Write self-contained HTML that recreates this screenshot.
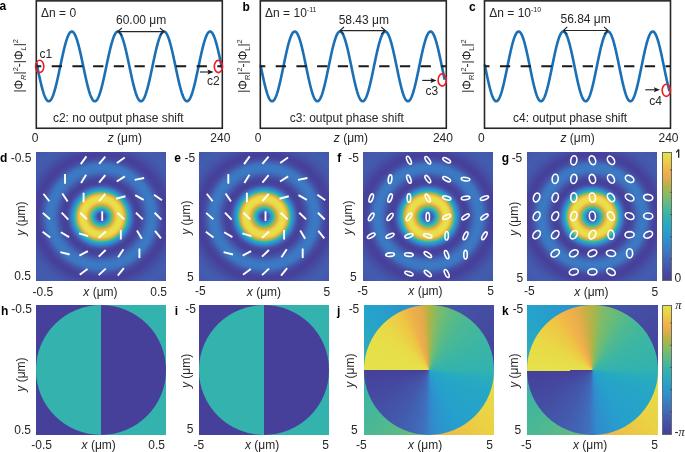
<!DOCTYPE html>
<html><head><meta charset="utf-8"><style>
html,body{margin:0;padding:0;background:#fff;}
body{width:685px;height:452px;overflow:hidden;position:relative;font-family:"Liberation Sans",sans-serif;}
.hm{position:absolute;overflow:hidden;}
.cb{position:absolute;box-sizing:border-box;border:0.7px solid #6a6a6a;}
.circ{position:absolute;left:0;top:0;width:100%;height:100%;border-radius:50%;}
svg{position:absolute;left:0;top:0;will-change:transform;}
text{font-family:"Liberation Sans",sans-serif;}
</style></head><body>
<div class="hm" style="left:36.00px;top:152.00px;width:130.00px;height:129.00px;background:radial-gradient(ellipse 100px 96px at 65.2px 64.7px, #46409a 0.0px, #46429b 0.5px, #46439c 1.0px, #46449d 1.5px, #45469e 2.0px, #4549a0 2.5px, #454ca3 3.0px, #444fa5 3.5px, #4455a9 4.0px, #425eb0 4.5px, #4167b7 5.0px, #3e73c0 5.5px, #3681c7 6.0px, #2f8dcd 6.5px, #2997cd 7.0px, #24a1cc 7.5px, #27a8c3 8.0px, #2cafb8 8.5px, #36b4aa 9.0px, #49b896 9.5px, #59ba86 10.0px, #6abb78 10.5px, #80bb69 11.0px, #98b857 11.5px, #afb444 12.0px, #ccaf47 12.5px, #e5ab4c 13.0px, #edaf4b 13.5px, #f1b649 14.0px, #efc245 14.5px, #edcb43 15.0px, #ebd344 15.5px, #e9d947 16.0px, #e8db47 16.5px, #e8dd48 17.0px, #e7df49 17.5px, #e7e049 18.0px, #e6e24a 18.5px, #e7e049 19.0px, #e7df49 19.5px, #e8dd48 20.0px, #e8db47 20.5px, #e9d947 21.0px, #ebd243 21.5px, #edc844 22.0px, #f0bc47 22.5px, #f0b14a 23.0px, #e5ac4c 23.5px, #c8af47 24.0px, #a2b74f 24.5px, #7dbb6b 25.0px, #5dbb82 25.5px, #42b79d 26.0px, #31b2b0 26.5px, #28acbe 27.0px, #25a4c8 27.5px, #279bcd 28.0px, #2c93cd 28.5px, #308ccd 29.0px, #3583c8 29.5px, #397bc4 30.0px, #3d73c0 30.5px, #406bba 31.0px, #4164b4 31.5px, #425daf 32.0px, #4456aa 32.5px, #4451a6 33.0px, #454ca2 33.5px, #454aa1 34.0px, #45479f 34.5px, #46449d 35.0px, #46429b 35.5px, #46429b 36.0px, #46419b 36.5px, #46409a 37.0px, #46409a 37.5px, #46429b 38.0px, #46439c 38.5px, #46449d 39.0px, #45469e 39.5px, #4549a0 40.0px, #454ca2 40.5px, #454ea4 41.0px, #4451a6 41.5px, #4454a8 42.0px, #4357aa 42.5px, #435aad 43.0px, #425daf 43.5px, #4261b2 44.0px, #4164b4 44.5px, #4167b7 45.0px, #406ab9 45.5px, #406dbc 46.0px, #3f6fbd 46.5px, #3f71be 47.0px, #3e72bf 47.5px, #3d74c0 48.0px, #3c76c1 48.5px, #3b78c2 49.0px, #3a79c3 49.5px, #397bc4 50.0px, #397ac4 50.5px, #3a7ac3 51.0px, #3a79c3 51.5px, #3b78c2 52.0px, #3b78c2 52.5px, #3b77c2 53.0px, #3c76c1 53.5px, #3c76c1 54.0px, #3e72bf 54.5px, #3f6fbd 55.0px, #406bba 55.5px, #4068b7 56.0px, #4164b5 56.5px, #4261b2 57.0px, #425daf 57.5px, #435aac 58.0px, #4456a9 58.5px, #4453a7 59.0px, #4450a5 59.5px, #454da3 60.0px, #454ba1 60.5px, #4548a0 61.0px, #45479f 61.5px, #45459e 62.0px, #46449d 62.5px, #46439c 63.0px, #46419b 63.5px, #46409a 64.0px, #46409a 64.5px, #46419a 65.0px, #46419b 65.5px, #46419b 66.0px, #46429b 66.5px, #46429b 67.0px, #46439c 67.5px, #46449d 68.0px, #45469e 68.5px, #45479f 69.0px, #4548a0 69.5px, #454aa1 70.0px, #454ba2 70.5px, #454ca2 71.0px, #454da3 71.5px, #454ea4 72.0px, #444fa4 72.5px, #4450a5 73.0px, #4451a6 73.5px, #4452a7 74.0px, #4453a7 74.5px, #4454a8 75.0px, #4455a9 75.5px, #4457aa 76.0px, #4357ab 76.5px, #4358ab 77.0px, #4358ab 77.5px, #4359ac 78.0px, #4359ac 78.5px, #435aac 79.0px, #435aad 79.5px, #435bad 80.0px, #435bae 80.5px, #435bae 81.0px, #435cae 81.5px, #425caf 82.0px, #435cae 82.5px, #435cae 83.0px, #435cae 83.5px, #435bae 84.0px, #435bae 84.5px, #435bae 85.0px, #435bad 85.5px, #435bad 86.0px, #435aad 86.5px, #435aad 87.0px, #435aad 87.5px, #435aac 88.0px, #4359ac 88.5px, #4359ac 89.0px, #4359ac 89.5px, #4358ab 90.0px, #4358ab 90.5px, #4358ab 91.0px, #4357aa 91.5px, #4457aa 92.0px, #4456aa 92.5px, #4456aa 93.0px, #4456a9 93.5px, #4455a9 94.0px, #4455a9 94.5px, #4455a9 95.0px, #4454a8 95.5px, #4454a8 96.0px)"></div>
<div class="hm" style="left:199.30px;top:152.00px;width:130.00px;height:129.00px;background:radial-gradient(ellipse 100px 96px at 65.2px 64.7px, #46409a 0.0px, #46429b 0.5px, #46439c 1.0px, #46449d 1.5px, #45469e 2.0px, #4549a0 2.5px, #454ca3 3.0px, #444fa5 3.5px, #4455a9 4.0px, #425eb0 4.5px, #4167b7 5.0px, #3e73c0 5.5px, #3681c7 6.0px, #2f8dcd 6.5px, #2997cd 7.0px, #24a1cc 7.5px, #27a8c3 8.0px, #2cafb8 8.5px, #36b4aa 9.0px, #49b896 9.5px, #59ba86 10.0px, #6abb78 10.5px, #80bb69 11.0px, #98b857 11.5px, #afb444 12.0px, #ccaf47 12.5px, #e5ab4c 13.0px, #edaf4b 13.5px, #f1b649 14.0px, #efc245 14.5px, #edcb43 15.0px, #ebd344 15.5px, #e9d947 16.0px, #e8db47 16.5px, #e8dd48 17.0px, #e7df49 17.5px, #e7e049 18.0px, #e6e24a 18.5px, #e7e049 19.0px, #e7df49 19.5px, #e8dd48 20.0px, #e8db47 20.5px, #e9d947 21.0px, #ebd243 21.5px, #edc844 22.0px, #f0bc47 22.5px, #f0b14a 23.0px, #e5ac4c 23.5px, #c8af47 24.0px, #a2b74f 24.5px, #7dbb6b 25.0px, #5dbb82 25.5px, #42b79d 26.0px, #31b2b0 26.5px, #28acbe 27.0px, #25a4c8 27.5px, #279bcd 28.0px, #2c93cd 28.5px, #308ccd 29.0px, #3583c8 29.5px, #397bc4 30.0px, #3d73c0 30.5px, #406bba 31.0px, #4164b4 31.5px, #425daf 32.0px, #4456aa 32.5px, #4451a6 33.0px, #454ca2 33.5px, #454aa1 34.0px, #45479f 34.5px, #46449d 35.0px, #46429b 35.5px, #46429b 36.0px, #46419b 36.5px, #46409a 37.0px, #46409a 37.5px, #46429b 38.0px, #46439c 38.5px, #46449d 39.0px, #45469e 39.5px, #4549a0 40.0px, #454ca2 40.5px, #454ea4 41.0px, #4451a6 41.5px, #4454a8 42.0px, #4357aa 42.5px, #435aad 43.0px, #425daf 43.5px, #4261b2 44.0px, #4164b4 44.5px, #4167b7 45.0px, #406ab9 45.5px, #406dbc 46.0px, #3f6fbd 46.5px, #3f71be 47.0px, #3e72bf 47.5px, #3d74c0 48.0px, #3c76c1 48.5px, #3b78c2 49.0px, #3a79c3 49.5px, #397bc4 50.0px, #397ac4 50.5px, #3a7ac3 51.0px, #3a79c3 51.5px, #3b78c2 52.0px, #3b78c2 52.5px, #3b77c2 53.0px, #3c76c1 53.5px, #3c76c1 54.0px, #3e72bf 54.5px, #3f6fbd 55.0px, #406bba 55.5px, #4068b7 56.0px, #4164b5 56.5px, #4261b2 57.0px, #425daf 57.5px, #435aac 58.0px, #4456a9 58.5px, #4453a7 59.0px, #4450a5 59.5px, #454da3 60.0px, #454ba1 60.5px, #4548a0 61.0px, #45479f 61.5px, #45459e 62.0px, #46449d 62.5px, #46439c 63.0px, #46419b 63.5px, #46409a 64.0px, #46409a 64.5px, #46419a 65.0px, #46419b 65.5px, #46419b 66.0px, #46429b 66.5px, #46429b 67.0px, #46439c 67.5px, #46449d 68.0px, #45469e 68.5px, #45479f 69.0px, #4548a0 69.5px, #454aa1 70.0px, #454ba2 70.5px, #454ca2 71.0px, #454da3 71.5px, #454ea4 72.0px, #444fa4 72.5px, #4450a5 73.0px, #4451a6 73.5px, #4452a7 74.0px, #4453a7 74.5px, #4454a8 75.0px, #4455a9 75.5px, #4457aa 76.0px, #4357ab 76.5px, #4358ab 77.0px, #4358ab 77.5px, #4359ac 78.0px, #4359ac 78.5px, #435aac 79.0px, #435aad 79.5px, #435bad 80.0px, #435bae 80.5px, #435bae 81.0px, #435cae 81.5px, #425caf 82.0px, #435cae 82.5px, #435cae 83.0px, #435cae 83.5px, #435bae 84.0px, #435bae 84.5px, #435bae 85.0px, #435bad 85.5px, #435bad 86.0px, #435aad 86.5px, #435aad 87.0px, #435aad 87.5px, #435aac 88.0px, #4359ac 88.5px, #4359ac 89.0px, #4359ac 89.5px, #4358ab 90.0px, #4358ab 90.5px, #4358ab 91.0px, #4357aa 91.5px, #4457aa 92.0px, #4456aa 92.5px, #4456aa 93.0px, #4456a9 93.5px, #4455a9 94.0px, #4455a9 94.5px, #4455a9 95.0px, #4454a8 95.5px, #4454a8 96.0px)"></div>
<div class="hm" style="left:363.00px;top:152.00px;width:130.00px;height:129.00px;background:radial-gradient(ellipse 100px 96px at 65.2px 64.7px, #46409a 0.0px, #46429b 0.5px, #46439c 1.0px, #46449d 1.5px, #45469e 2.0px, #4549a0 2.5px, #454ca3 3.0px, #444fa5 3.5px, #4455a9 4.0px, #425eb0 4.5px, #4167b7 5.0px, #3e73c0 5.5px, #3681c7 6.0px, #2f8dcd 6.5px, #2997cd 7.0px, #24a1cc 7.5px, #27a8c3 8.0px, #2cafb8 8.5px, #36b4aa 9.0px, #49b896 9.5px, #59ba86 10.0px, #6abb78 10.5px, #80bb69 11.0px, #98b857 11.5px, #afb444 12.0px, #ccaf47 12.5px, #e5ab4c 13.0px, #edaf4b 13.5px, #f1b649 14.0px, #efc245 14.5px, #edcb43 15.0px, #ebd344 15.5px, #e9d947 16.0px, #e8db47 16.5px, #e8dd48 17.0px, #e7df49 17.5px, #e7e049 18.0px, #e6e24a 18.5px, #e7e049 19.0px, #e7df49 19.5px, #e8dd48 20.0px, #e8db47 20.5px, #e9d947 21.0px, #ebd243 21.5px, #edc844 22.0px, #f0bc47 22.5px, #f0b14a 23.0px, #e5ac4c 23.5px, #c8af47 24.0px, #a2b74f 24.5px, #7dbb6b 25.0px, #5dbb82 25.5px, #42b79d 26.0px, #31b2b0 26.5px, #28acbe 27.0px, #25a4c8 27.5px, #279bcd 28.0px, #2c93cd 28.5px, #308ccd 29.0px, #3583c8 29.5px, #397bc4 30.0px, #3d73c0 30.5px, #406bba 31.0px, #4164b4 31.5px, #425daf 32.0px, #4456aa 32.5px, #4451a6 33.0px, #454ca2 33.5px, #454aa1 34.0px, #45479f 34.5px, #46449d 35.0px, #46429b 35.5px, #46429b 36.0px, #46419b 36.5px, #46409a 37.0px, #46409a 37.5px, #46429b 38.0px, #46439c 38.5px, #46449d 39.0px, #45469e 39.5px, #4549a0 40.0px, #454ca2 40.5px, #454ea4 41.0px, #4451a6 41.5px, #4454a8 42.0px, #4357aa 42.5px, #435aad 43.0px, #425daf 43.5px, #4261b2 44.0px, #4164b4 44.5px, #4167b7 45.0px, #406ab9 45.5px, #406dbc 46.0px, #3f6fbd 46.5px, #3f71be 47.0px, #3e72bf 47.5px, #3d74c0 48.0px, #3c76c1 48.5px, #3b78c2 49.0px, #3a79c3 49.5px, #397bc4 50.0px, #397ac4 50.5px, #3a7ac3 51.0px, #3a79c3 51.5px, #3b78c2 52.0px, #3b78c2 52.5px, #3b77c2 53.0px, #3c76c1 53.5px, #3c76c1 54.0px, #3e72bf 54.5px, #3f6fbd 55.0px, #406bba 55.5px, #4068b7 56.0px, #4164b5 56.5px, #4261b2 57.0px, #425daf 57.5px, #435aac 58.0px, #4456a9 58.5px, #4453a7 59.0px, #4450a5 59.5px, #454da3 60.0px, #454ba1 60.5px, #4548a0 61.0px, #45479f 61.5px, #45459e 62.0px, #46449d 62.5px, #46439c 63.0px, #46419b 63.5px, #46409a 64.0px, #46409a 64.5px, #46419a 65.0px, #46419b 65.5px, #46419b 66.0px, #46429b 66.5px, #46429b 67.0px, #46439c 67.5px, #46449d 68.0px, #45469e 68.5px, #45479f 69.0px, #4548a0 69.5px, #454aa1 70.0px, #454ba2 70.5px, #454ca2 71.0px, #454da3 71.5px, #454ea4 72.0px, #444fa4 72.5px, #4450a5 73.0px, #4451a6 73.5px, #4452a7 74.0px, #4453a7 74.5px, #4454a8 75.0px, #4455a9 75.5px, #4457aa 76.0px, #4357ab 76.5px, #4358ab 77.0px, #4358ab 77.5px, #4359ac 78.0px, #4359ac 78.5px, #435aac 79.0px, #435aad 79.5px, #435bad 80.0px, #435bae 80.5px, #435bae 81.0px, #435cae 81.5px, #425caf 82.0px, #435cae 82.5px, #435cae 83.0px, #435cae 83.5px, #435bae 84.0px, #435bae 84.5px, #435bae 85.0px, #435bad 85.5px, #435bad 86.0px, #435aad 86.5px, #435aad 87.0px, #435aad 87.5px, #435aac 88.0px, #4359ac 88.5px, #4359ac 89.0px, #4359ac 89.5px, #4358ab 90.0px, #4358ab 90.5px, #4358ab 91.0px, #4357aa 91.5px, #4457aa 92.0px, #4456aa 92.5px, #4456aa 93.0px, #4456a9 93.5px, #4455a9 94.0px, #4455a9 94.5px, #4455a9 95.0px, #4454a8 95.5px, #4454a8 96.0px)"></div>
<div class="hm" style="left:527.30px;top:152.00px;width:130.00px;height:129.00px;background:radial-gradient(ellipse 100px 96px at 65.2px 64.7px, #46409a 0.0px, #46429b 0.5px, #46439c 1.0px, #46449d 1.5px, #45469e 2.0px, #4549a0 2.5px, #454ca3 3.0px, #444fa5 3.5px, #4455a9 4.0px, #425eb0 4.5px, #4167b7 5.0px, #3e73c0 5.5px, #3681c7 6.0px, #2f8dcd 6.5px, #2997cd 7.0px, #24a1cc 7.5px, #27a8c3 8.0px, #2cafb8 8.5px, #36b4aa 9.0px, #49b896 9.5px, #59ba86 10.0px, #6abb78 10.5px, #80bb69 11.0px, #98b857 11.5px, #afb444 12.0px, #ccaf47 12.5px, #e5ab4c 13.0px, #edaf4b 13.5px, #f1b649 14.0px, #efc245 14.5px, #edcb43 15.0px, #ebd344 15.5px, #e9d947 16.0px, #e8db47 16.5px, #e8dd48 17.0px, #e7df49 17.5px, #e7e049 18.0px, #e6e24a 18.5px, #e7e049 19.0px, #e7df49 19.5px, #e8dd48 20.0px, #e8db47 20.5px, #e9d947 21.0px, #ebd243 21.5px, #edc844 22.0px, #f0bc47 22.5px, #f0b14a 23.0px, #e5ac4c 23.5px, #c8af47 24.0px, #a2b74f 24.5px, #7dbb6b 25.0px, #5dbb82 25.5px, #42b79d 26.0px, #31b2b0 26.5px, #28acbe 27.0px, #25a4c8 27.5px, #279bcd 28.0px, #2c93cd 28.5px, #308ccd 29.0px, #3583c8 29.5px, #397bc4 30.0px, #3d73c0 30.5px, #406bba 31.0px, #4164b4 31.5px, #425daf 32.0px, #4456aa 32.5px, #4451a6 33.0px, #454ca2 33.5px, #454aa1 34.0px, #45479f 34.5px, #46449d 35.0px, #46429b 35.5px, #46429b 36.0px, #46419b 36.5px, #46409a 37.0px, #46409a 37.5px, #46429b 38.0px, #46439c 38.5px, #46449d 39.0px, #45469e 39.5px, #4549a0 40.0px, #454ca2 40.5px, #454ea4 41.0px, #4451a6 41.5px, #4454a8 42.0px, #4357aa 42.5px, #435aad 43.0px, #425daf 43.5px, #4261b2 44.0px, #4164b4 44.5px, #4167b7 45.0px, #406ab9 45.5px, #406dbc 46.0px, #3f6fbd 46.5px, #3f71be 47.0px, #3e72bf 47.5px, #3d74c0 48.0px, #3c76c1 48.5px, #3b78c2 49.0px, #3a79c3 49.5px, #397bc4 50.0px, #397ac4 50.5px, #3a7ac3 51.0px, #3a79c3 51.5px, #3b78c2 52.0px, #3b78c2 52.5px, #3b77c2 53.0px, #3c76c1 53.5px, #3c76c1 54.0px, #3e72bf 54.5px, #3f6fbd 55.0px, #406bba 55.5px, #4068b7 56.0px, #4164b5 56.5px, #4261b2 57.0px, #425daf 57.5px, #435aac 58.0px, #4456a9 58.5px, #4453a7 59.0px, #4450a5 59.5px, #454da3 60.0px, #454ba1 60.5px, #4548a0 61.0px, #45479f 61.5px, #45459e 62.0px, #46449d 62.5px, #46439c 63.0px, #46419b 63.5px, #46409a 64.0px, #46409a 64.5px, #46419a 65.0px, #46419b 65.5px, #46419b 66.0px, #46429b 66.5px, #46429b 67.0px, #46439c 67.5px, #46449d 68.0px, #45469e 68.5px, #45479f 69.0px, #4548a0 69.5px, #454aa1 70.0px, #454ba2 70.5px, #454ca2 71.0px, #454da3 71.5px, #454ea4 72.0px, #444fa4 72.5px, #4450a5 73.0px, #4451a6 73.5px, #4452a7 74.0px, #4453a7 74.5px, #4454a8 75.0px, #4455a9 75.5px, #4457aa 76.0px, #4357ab 76.5px, #4358ab 77.0px, #4358ab 77.5px, #4359ac 78.0px, #4359ac 78.5px, #435aac 79.0px, #435aad 79.5px, #435bad 80.0px, #435bae 80.5px, #435bae 81.0px, #435cae 81.5px, #425caf 82.0px, #435cae 82.5px, #435cae 83.0px, #435cae 83.5px, #435bae 84.0px, #435bae 84.5px, #435bae 85.0px, #435bad 85.5px, #435bad 86.0px, #435aad 86.5px, #435aad 87.0px, #435aad 87.5px, #435aac 88.0px, #4359ac 88.5px, #4359ac 89.0px, #4359ac 89.5px, #4358ab 90.0px, #4358ab 90.5px, #4358ab 91.0px, #4357aa 91.5px, #4457aa 92.0px, #4456aa 92.5px, #4456aa 93.0px, #4456a9 93.5px, #4455a9 94.0px, #4455a9 94.5px, #4455a9 95.0px, #4454a8 95.5px, #4454a8 96.0px)"></div>
<div class="cb" style="left:662.2px;top:151.60px;width:9.8px;height:129.40px;background:linear-gradient(to bottom, #e6e24a 0.00%, #e7de48 1.56%, #e9d946 3.12%, #ead545 4.69%, #ebd043 6.25%, #edcb43 7.81%, #eec445 9.38%, #efbe46 10.94%, #f1b848 12.50%, #f2b24a 14.06%, #eeb04b 15.62%, #eaae4b 17.19%, #e5ac4c 18.75%, #dfab4b 20.31%, #d3ad49 21.88%, #c6b046 23.44%, #bab244 25.00%, #afb545 26.56%, #a5b64c 28.12%, #9bb854 29.69%, #92b95c 31.25%, #88bb63 32.81%, #7fbb6a 34.38%, #76bb70 35.94%, #6dbb76 37.50%, #64bb7c 39.06%, #5cbb83 40.62%, #54b98b 42.19%, #4cb893 43.75%, #44b79b 45.31%, #3db6a2 46.88%, #36b4a9 48.44%, #33b2ae 50.00%, #2fb0b3 51.56%, #2caeb8 53.12%, #29acbd 54.69%, #27aac1 56.25%, #26a7c4 57.81%, #26a4c7 59.38%, #25a2cb 60.94%, #259fcd 62.50%, #279bcd 64.06%, #2997cd 65.62%, #2c93cd 67.19%, #2e8fcd 68.75%, #308bcd 70.31%, #3387ca 71.88%, #3582c8 73.44%, #387ec6 75.00%, #3a7ac3 76.56%, #3c75c1 78.12%, #3f71be 79.69%, #406cbb 81.25%, #4068b8 82.81%, #4164b4 84.38%, #425fb1 85.94%, #435bae 87.50%, #4457aa 89.06%, #4453a7 90.62%, #4450a5 92.19%, #454ca3 93.75%, #4549a1 95.31%, #45469e 96.88%, #46439c 98.44%, #46409a 100.00%)"></div>
<div class="cb" style="left:662.2px;top:305.00px;width:9.8px;height:129.70px;background:linear-gradient(to bottom, #e6e24a 0.00%, #e7de48 1.56%, #e9d946 3.12%, #ead545 4.69%, #ebd043 6.25%, #edcb43 7.81%, #eec445 9.38%, #efbe46 10.94%, #f1b848 12.50%, #f2b24a 14.06%, #eeb04b 15.62%, #eaae4b 17.19%, #e5ac4c 18.75%, #dfab4b 20.31%, #d3ad49 21.88%, #c6b046 23.44%, #bab244 25.00%, #afb545 26.56%, #a5b64c 28.12%, #9bb854 29.69%, #92b95c 31.25%, #88bb63 32.81%, #7fbb6a 34.38%, #76bb70 35.94%, #6dbb76 37.50%, #64bb7c 39.06%, #5cbb83 40.62%, #54b98b 42.19%, #4cb893 43.75%, #44b79b 45.31%, #3db6a2 46.88%, #36b4a9 48.44%, #33b2ae 50.00%, #2fb0b3 51.56%, #2caeb8 53.12%, #29acbd 54.69%, #27aac1 56.25%, #26a7c4 57.81%, #26a4c7 59.38%, #25a2cb 60.94%, #259fcd 62.50%, #279bcd 64.06%, #2997cd 65.62%, #2c93cd 67.19%, #2e8fcd 68.75%, #308bcd 70.31%, #3387ca 71.88%, #3582c8 73.44%, #387ec6 75.00%, #3a7ac3 76.56%, #3c75c1 78.12%, #3f71be 79.69%, #406cbb 81.25%, #4068b8 82.81%, #4164b4 84.38%, #425fb1 85.94%, #435bae 87.50%, #4457aa 89.06%, #4453a7 90.62%, #4450a5 92.19%, #454ca3 93.75%, #4549a1 95.31%, #45469e 96.88%, #46439c 98.44%, #46409a 100.00%)"></div>
<div class="hm" style="left:36.00px;top:305.00px;width:130.00px;height:129.60px;background:linear-gradient(to right, #46409a 50%, #33b2ae 50%)"><div class="circ" style="background:linear-gradient(to right, #33b2ae 50%, #46409a 50%)"></div></div>
<div class="hm" style="left:199.30px;top:305.00px;width:130.00px;height:129.60px;background:linear-gradient(to right, #46409a 50%, #33b2ae 50%)"><div class="circ" style="background:linear-gradient(to right, #33b2ae 50%, #46409a 50%)"></div></div>
<div class="hm" style="left:363.80px;top:305.00px;width:130.00px;height:129.60px;background:conic-gradient(from 270.00deg at 50% 50%, #31b1b1 0.00deg, #25a2cb 45.00deg, #3189cc 88.00deg, #425caf 90.00deg, #454ca2 135.00deg, #46409a 179.50deg, #e6e24a 179.50deg, #ebd143 225.00deg, #edaf4b 268.00deg, #76bb70 270.00deg, #4bb894 315.00deg, #31b1b1 360.00deg)"><div class="circ" style="background:conic-gradient(from 270.00deg at 50% 50%, #e6e24a 0.00deg, #e7de48 30.00deg, #e9d947 45.00deg, #eec644 63.00deg, #edaf4b 74.00deg, #e2aa4c 83.00deg, #b2b442 90.00deg, #81bb68 98.00deg, #5fbb80 110.00deg, #4bb894 125.00deg, #3cb6a3 150.00deg, #33b2ae 180.00deg, #28acbe 190.00deg, #26a7c4 200.00deg, #25a3c9 225.00deg, #269ecd 245.00deg, #2c94cd 258.00deg, #308ccd 266.00deg, #3681c7 270.00deg, #3f70be 275.00deg, #4165b5 285.00deg, #435aac 300.00deg, #454ca2 330.00deg, #46409a 360.00deg)"></div></div>
<div class="hm" style="left:527.00px;top:305.00px;width:130.80px;height:129.60px;background:conic-gradient(from 268.70deg at 50% 50%, #31b1b1 0.00deg, #25a2cb 45.00deg, #3189cc 88.00deg, #425caf 90.00deg, #454ca2 135.00deg, #46409a 179.50deg, #e6e24a 179.50deg, #ebd143 225.00deg, #edaf4b 268.00deg, #76bb70 270.00deg, #4bb894 315.00deg, #31b1b1 360.00deg)"><div class="circ" style="transform:rotate(-1.3deg);background:conic-gradient(from 270.00deg at 50% 50%, #e6e24a 0.00deg, #e9d947 30.00deg, #eec644 53.00deg, #f2b24a 66.00deg, #e7ad4b 76.00deg, #caaf47 84.00deg, #acb547 92.00deg, #81bb68 101.00deg, #6abb78 112.00deg, #55ba8a 123.00deg, #4bb894 131.00deg, #3cb6a3 150.00deg, #33b2ae 180.00deg, #28acbe 190.00deg, #26a7c4 200.00deg, #25a3c9 225.00deg, #269ecd 245.00deg, #2c94cd 258.00deg, #308ccd 266.00deg, #3681c7 270.00deg, #3f70be 275.00deg, #4165b5 285.00deg, #435aac 300.00deg, #454ca2 330.00deg, #46409a 360.00deg)"></div></div>
<svg width="685" height="452" viewBox="0 0 685 452">
<polyline points="36.50,63.08 36.96,65.28 37.43,67.48 37.89,69.68 38.35,71.87 38.82,74.04 39.28,76.17 39.75,78.27 40.21,80.32 40.67,82.31 41.14,84.24 41.60,86.10 42.06,87.88 42.53,89.58 42.99,91.18 43.46,92.68 43.92,94.08 44.38,95.37 44.85,96.54 45.31,97.59 45.77,98.52 46.24,99.32 46.70,99.98 47.17,100.52 47.63,100.91 48.09,101.17 48.56,101.29 49.02,101.27 49.48,101.11 49.95,100.82 50.41,100.38 50.88,99.81 51.34,99.11 51.80,98.27 52.27,97.31 52.73,96.23 53.20,95.02 53.66,93.70 54.12,92.27 54.59,90.74 55.05,89.12 55.51,87.40 55.98,85.59 56.44,83.71 56.91,81.77 57.37,79.76 57.83,77.69 58.30,75.58 58.76,73.44 59.22,71.27 59.69,69.07 60.15,66.87 60.61,64.66 61.08,62.47 61.54,60.28 62.01,58.13 62.47,56.00 62.93,53.92 63.40,51.88 63.86,49.91 64.33,48.00 64.79,46.16 65.25,44.41 65.72,42.74 66.18,41.17 66.64,39.69 67.11,38.33 67.57,37.07 68.03,35.94 68.50,34.92 68.96,34.03 69.43,33.27 69.89,32.65 70.35,32.15 70.82,31.80 71.28,31.58 71.75,31.50 72.21,31.56 72.67,31.76 73.14,32.10 73.60,32.57 74.06,33.18 74.53,33.93 74.99,34.80 75.45,35.80 75.92,36.92 76.38,38.16 76.85,39.51 77.31,40.97 77.77,42.53 78.24,44.19 78.70,45.93 79.16,47.76 79.63,49.66 80.09,51.62 80.56,53.65 81.02,55.73 81.48,57.85 81.95,60.00 82.41,62.18 82.88,64.38 83.34,66.58 83.80,68.79 84.27,70.98 84.73,73.16 85.19,75.31 85.66,77.42 86.12,79.49 86.59,81.51 87.05,83.47 87.51,85.35 87.98,87.17 88.44,88.90 88.90,90.54 89.37,92.08 89.83,93.52 90.30,94.86 90.76,96.08 91.22,97.18 91.69,98.15 92.15,99.01 92.61,99.73 93.08,100.31 93.54,100.77 94.00,101.08 94.47,101.26 94.93,101.30 95.40,101.19 95.86,100.95 96.32,100.57 96.79,100.06 97.25,99.41 97.72,98.63 98.18,97.72 98.64,96.68 99.11,95.53 99.57,94.25 100.03,92.87 100.50,91.38 100.96,89.79 101.42,88.11 101.89,86.34 102.35,84.49 102.82,82.57 103.28,80.58 103.74,78.54 104.21,76.45 104.67,74.32 105.14,72.15 105.60,69.97 106.06,67.77 106.53,65.56 106.99,63.36 107.45,61.17 107.92,59.00 108.38,56.86 108.84,54.76 109.31,52.70 109.77,50.70 110.24,48.77 110.70,46.90 111.16,45.11 111.63,43.41 112.09,41.79 112.56,40.28 113.02,38.87 113.48,37.57 113.95,36.38 114.41,35.32 114.87,34.38 115.34,33.57 115.80,32.88 116.27,32.34 116.73,31.93 117.19,31.65 117.66,31.52 118.12,31.52 118.58,31.66 119.05,31.94 119.51,32.36 119.97,32.92 120.44,33.61 120.90,34.43 121.37,35.38 121.83,36.45 122.29,37.64 122.76,38.95 123.22,40.36 123.69,41.88 124.15,43.50 124.61,45.21 125.08,47.00 125.54,48.87 126.00,50.82 126.47,52.82 126.93,54.88 127.39,56.98 127.86,59.12 128.32,61.29 128.79,63.48 129.25,65.69 129.71,67.89 130.18,70.09 130.64,72.28 131.11,74.44 131.57,76.57 132.03,78.66 132.50,80.69 132.96,82.68 133.42,84.59 133.89,86.44 134.35,88.20 134.81,89.88 135.28,91.47 135.74,92.95 136.21,94.33 136.67,95.59 137.13,96.74 137.60,97.77 138.06,98.68 138.53,99.45 138.99,100.09 139.45,100.60 139.92,100.97 140.38,101.20 140.84,101.30 141.31,101.25 141.77,101.07 142.24,100.75 142.70,100.29 143.16,99.69 143.63,98.96 144.09,98.10 144.55,97.12 145.02,96.01 145.48,94.78 145.94,93.44 146.41,92.00 146.87,90.45 147.34,88.80 147.80,87.07 148.26,85.25 148.73,83.36 149.19,81.40 149.66,79.38 150.12,77.30 150.58,75.19 151.05,73.04 151.51,70.86 151.97,68.66 152.44,66.46 152.90,64.25 153.37,62.06 153.83,59.88 154.29,57.73 154.76,55.61 155.22,53.53 155.68,51.51 156.15,49.55 156.61,47.65 157.07,45.83 157.54,44.09 158.00,42.44 158.47,40.88 158.93,39.43 159.39,38.09 159.86,36.85 160.32,35.74 160.78,34.75 161.25,33.88 161.71,33.15 162.18,32.54 162.64,32.08 163.10,31.75 163.57,31.55 164.03,31.50 164.50,31.59 164.96,31.81 165.42,32.18 165.89,32.68 166.35,33.31 166.81,34.08 167.28,34.98 167.74,36.00 168.21,37.14 168.67,38.40 169.13,39.77 169.60,41.25 170.06,42.83 170.52,44.50 170.99,46.26 171.45,48.10 171.91,50.02 172.38,52.00 172.84,54.03 173.31,56.12 173.77,58.25 174.23,60.41 174.70,62.59 175.16,64.79 175.62,66.99 176.09,69.20 176.55,71.39 177.02,73.56 177.48,75.70 177.94,77.81 178.41,79.87 178.87,81.88 179.34,83.82 179.80,85.70 180.26,87.50 180.73,89.21 181.19,90.83 181.65,92.36 182.12,93.78 182.58,95.09 183.04,96.29 183.51,97.37 183.97,98.32 184.44,99.15 184.90,99.85 185.36,100.41 185.83,100.84 186.29,101.13 186.75,101.28 187.22,101.29 187.68,101.16 188.15,100.89 188.61,100.49 189.07,99.95 189.54,99.27 190.00,98.47 190.47,97.53 190.93,96.48 191.39,95.30 191.86,94.00 192.32,92.60 192.78,91.09 193.25,89.48 193.71,87.78 194.18,86.00 194.64,84.14 195.10,82.20 195.57,80.20 196.03,78.15 196.49,76.05 196.96,73.92 197.42,71.75 197.88,69.56 198.35,67.36 198.81,65.15 199.28,62.95 199.74,60.76 200.20,58.60 200.67,56.47 201.13,54.37 201.59,52.33 202.06,50.34 202.52,48.41 202.99,46.56 203.45,44.79 203.91,43.10 204.38,41.50 204.84,40.01 205.31,38.62 205.77,37.34 206.23,36.18 206.70,35.14 207.16,34.22 207.62,33.43 208.09,32.77 208.55,32.25 209.01,31.86 209.48,31.62 209.94,31.51 210.41,31.54 210.87,31.70 211.33,32.01 211.80,32.46 212.26,33.04 212.72,33.75 213.19,34.60 213.65,35.57 214.12,36.66 214.58,37.87 215.04,39.20 215.51,40.64 215.97,42.18 216.44,43.81 216.90,45.54 217.36,47.35 217.83,49.23 218.29,51.18 218.75,53.20 219.22,55.27 219.68,57.38 220.15,59.52 220.61,61.70 221.07,63.89 221.54,66.10 222.00,68.30" fill="none" stroke="#1a6fb5" stroke-width="2.6" stroke-linejoin="round"/>
<line x1="36.30" y1="66.3" x2="222.30" y2="66.3" stroke="#1a1a1a" stroke-width="2.1" stroke-dasharray="10.3 10.4" stroke-dashoffset="5.3"/>
<rect x="36.30" y="0.85" width="186.00" height="127.4" fill="none" stroke="#262626" stroke-width="1.6"/>
<line x1="117.88" y1="31.60" x2="163.98" y2="31.60" stroke="#262626" stroke-width="1.1"/>
<polyline points="121.88,28.00 117.88,31.60 121.88,35.20" fill="none" stroke="#262626" stroke-width="1.1"/>
<polyline points="159.98,28.00 163.98,31.60 159.98,35.20" fill="none" stroke="#262626" stroke-width="1.1"/>
<text x="116.00" y="23.90" font-size="12" text-anchor="start" font-weight="normal" font-style="normal" fill="#262626" >60.00 μm</text>
<text x="41.10" y="16.60" font-size="12" text-anchor="start" font-weight="normal" font-style="normal" fill="#262626" >Δn = 0</text>
<text x="52.90" y="121.50" font-size="12" text-anchor="start" font-weight="normal" font-style="normal" fill="#262626" >c2: no output phase shift</text>
<text x="35.20" y="141.60" font-size="12" text-anchor="middle" font-weight="normal" font-style="normal" fill="#262626" >0</text>
<text x="220.30" y="141.60" font-size="12" text-anchor="middle" font-weight="normal" font-style="normal" fill="#262626" >240</text>
<text x="107.70" y="141.60" font-size="12" text-anchor="start" font-weight="normal" font-style="normal" fill="#262626" ><tspan font-style="italic">z</tspan> (μm)</text>
<text transform="translate(23.20,92.60) rotate(-90)" font-size="12" fill="#262626">|Φ<tspan font-size="7.5" font-style="italic" dy="3.2">R</tspan><tspan dy="-3.2">|</tspan><tspan font-size="7.5" dy="-4.8">2</tspan><tspan dy="4.8">-|Φ</tspan><tspan font-size="7.5" font-style="italic" dy="3.2">L</tspan><tspan dy="-3.2">|</tspan><tspan font-size="7.5" dy="-4.8">2</tspan></text>
<polyline points="260.50,64.95 260.96,67.18 261.42,69.40 261.88,71.62 262.34,73.81 262.80,75.98 263.26,78.10 263.72,80.18 264.18,82.20 264.64,84.15 265.11,86.03 265.57,87.84 266.03,89.55 266.49,91.17 266.95,92.69 267.41,94.10 267.87,95.40 268.33,96.58 268.79,97.64 269.25,98.57 269.71,99.37 270.17,100.03 270.63,100.56 271.09,100.95 271.55,101.19 272.01,101.30 272.47,101.26 272.93,101.08 273.39,100.75 273.85,100.29 274.31,99.69 274.78,98.95 275.24,98.08 275.70,97.08 276.16,95.96 276.62,94.71 277.08,93.35 277.54,91.88 278.00,90.30 278.46,88.63 278.92,86.87 279.38,85.02 279.84,83.10 280.30,81.10 280.76,79.05 281.22,76.95 281.68,74.80 282.14,72.62 282.60,70.42 283.06,68.19 283.52,65.96 283.99,63.74 284.45,61.52 284.91,59.32 285.37,57.15 285.83,55.02 286.29,52.94 286.75,50.91 287.21,48.94 287.67,47.05 288.13,45.23 288.59,43.50 289.05,41.87 289.51,40.33 289.97,38.90 290.43,37.59 290.89,36.39 291.35,35.31 291.81,34.36 292.27,33.54 292.74,32.86 293.20,32.31 293.66,31.90 294.12,31.64 294.58,31.51 295.04,31.53 295.50,31.69 295.96,31.99 296.42,32.43 296.88,33.01 297.34,33.73 297.80,34.58 298.26,35.56 298.72,36.66 299.18,37.89 299.64,39.23 300.10,40.69 300.56,42.25 301.02,43.91 301.48,45.66 301.94,47.49 302.41,49.40 302.87,51.39 303.33,53.43 303.79,55.53 304.25,57.67 304.71,59.84 305.17,62.04 305.63,64.27 306.09,66.49 306.55,68.72 307.01,70.94 307.47,73.14 307.93,75.32 308.39,77.45 308.85,79.55 309.31,81.58 309.77,83.56 310.23,85.47 310.69,87.29 311.15,89.04 311.62,90.69 312.08,92.24 312.54,93.68 313.00,95.02 313.46,96.24 313.92,97.33 314.38,98.30 314.84,99.14 315.30,99.84 315.76,100.41 316.22,100.84 316.68,101.13 317.14,101.28 317.60,101.28 318.06,101.15 318.52,100.87 318.98,100.45 319.44,99.89 319.90,99.19 320.37,98.36 320.83,97.40 321.29,96.31 321.75,95.11 322.21,93.78 322.67,92.34 323.13,90.80 323.59,89.15 324.05,87.42 324.51,85.59 324.97,83.69 325.43,81.72 325.89,79.69 326.35,77.60 326.81,75.46 327.27,73.29 327.73,71.09 328.19,68.88 328.65,66.65 329.11,64.42 329.57,62.20 330.04,59.99 330.50,57.81 330.96,55.67 331.42,53.57 331.88,51.52 332.34,49.54 332.80,47.62 333.26,45.78 333.72,44.02 334.18,42.36 334.64,40.79 335.10,39.33 335.56,37.98 336.02,36.74 336.48,35.63 336.94,34.64 337.40,33.78 337.86,33.05 338.32,32.46 338.78,32.01 339.25,31.70 339.71,31.53 340.17,31.51 340.63,31.62 341.09,31.88 341.55,32.28 342.01,32.82 342.47,33.49 342.93,34.30 343.39,35.24 343.85,36.31 344.31,37.50 344.77,38.81 345.23,40.23 345.69,41.76 346.15,43.39 346.61,45.11 347.07,46.92 347.53,48.81 348.00,50.77 348.46,52.80 348.92,54.88 349.38,57.01 349.84,59.17 350.30,61.37 350.76,63.58 351.22,65.81 351.68,68.04 352.14,70.26 352.60,72.47 353.06,74.65 353.52,76.80 353.98,78.91 354.44,80.97 354.90,82.96 355.36,84.89 355.82,86.74 356.28,88.51 356.74,90.19 357.20,91.77 357.67,93.25 358.13,94.62 358.59,95.88 359.05,97.01 359.51,98.02 359.97,98.90 360.43,99.64 360.89,100.25 361.35,100.73 361.81,101.06 362.27,101.25 362.73,101.30 363.19,101.20 363.65,100.97 364.11,100.59 364.57,100.07 365.03,99.42 365.49,98.63 365.95,97.71 366.42,96.66 366.88,95.49 367.34,94.20 367.80,92.79 368.26,91.28 368.72,89.67 369.18,87.96 369.64,86.16 370.10,84.28 370.56,82.33 371.02,80.32 371.48,78.24 371.94,76.12 372.40,73.96 372.86,71.77 373.32,69.56 373.78,67.33 374.24,65.10 374.70,62.87 375.16,60.66 375.62,58.48 376.09,56.32 376.55,54.21 377.01,52.15 377.47,50.14 377.93,48.20 378.39,46.34 378.85,44.55 379.31,42.86 379.77,41.26 380.23,39.77 380.69,38.38 381.15,37.11 381.61,35.96 382.07,34.93 382.53,34.03 382.99,33.26 383.45,32.63 383.91,32.14 384.37,31.78 384.83,31.57 385.30,31.50 385.76,31.57 386.22,31.79 386.68,32.14 387.14,32.64 387.60,33.27 388.06,34.04 388.52,34.94 388.98,35.97 389.44,37.12 389.90,38.40 390.36,39.79 390.82,41.28 391.28,42.88 391.74,44.58 392.20,46.36 392.66,48.23 393.12,50.17 393.58,52.17 394.04,54.24 394.51,56.35 394.97,58.51 395.43,60.69 395.89,62.90 396.35,65.13 396.81,67.36 397.27,69.59 397.73,71.80 398.19,73.99 398.65,76.15 399.11,78.27 399.57,80.34 400.03,82.36 400.49,84.31 400.95,86.18 401.41,87.98 401.87,89.69 402.33,91.30 402.79,92.81 403.25,94.21 403.72,95.50 404.18,96.68 404.64,97.72 405.10,98.64 405.56,99.43 406.02,100.08 406.48,100.60 406.94,100.97 407.40,101.21 407.86,101.30 408.32,101.25 408.78,101.06 409.24,100.72 409.70,100.25 410.16,99.63 410.62,98.89 411.08,98.01 411.54,96.99 412.00,95.86 412.46,94.60 412.93,93.23 413.39,91.75 413.85,90.17 414.31,88.49 414.77,86.72 415.23,84.87 415.69,82.94 416.15,80.94 416.61,78.88 417.07,76.78 417.53,74.63 417.99,72.44 418.45,70.24 418.91,68.01 419.37,65.78 419.83,63.55 420.29,61.34 420.75,59.14 421.21,56.98 421.67,54.85 422.14,52.77 422.60,50.75 423.06,48.79 423.52,46.90 423.98,45.09 424.44,43.37 424.90,41.74 425.36,40.21 425.82,38.79 426.28,37.49 426.74,36.30 427.20,35.23 427.66,34.29 428.12,33.48 428.58,32.81 429.04,32.27 429.50,31.88 429.96,31.62 430.42,31.51 430.88,31.53 431.35,31.71 431.81,32.02 432.27,32.47 432.73,33.06 433.19,33.79 433.65,34.65 434.11,35.64 434.57,36.76 435.03,38.00 435.49,39.35 435.95,40.81 436.41,42.38 436.87,44.05 437.33,45.80 437.79,47.65 438.25,49.56 438.71,51.55 439.17,53.60 439.63,55.70 440.10,57.84 440.56,60.02 441.02,62.22 441.48,64.45 441.94,66.68 442.40,68.90 442.86,71.12 443.32,73.32 443.78,75.49 444.24,77.63 444.70,79.71" fill="none" stroke="#1a6fb5" stroke-width="2.6" stroke-linejoin="round"/>
<line x1="260.30" y1="66.3" x2="446.30" y2="66.3" stroke="#1a1a1a" stroke-width="2.1" stroke-dasharray="10.3 10.4" stroke-dashoffset="5.3"/>
<rect x="260.30" y="0.85" width="186.00" height="127.4" fill="none" stroke="#262626" stroke-width="1.6"/>
<line x1="340.02" y1="30.60" x2="385.29" y2="30.60" stroke="#262626" stroke-width="1.1"/>
<polyline points="344.02,27.00 340.02,30.60 344.02,34.20" fill="none" stroke="#262626" stroke-width="1.1"/>
<polyline points="381.29,27.00 385.29,30.60 381.29,34.20" fill="none" stroke="#262626" stroke-width="1.1"/>
<text x="338.70" y="23.70" font-size="12" text-anchor="start" font-weight="normal" font-style="normal" fill="#262626" >58.43 μm</text>
<text x="265.10" y="16.60" font-size="12" text-anchor="start" font-weight="normal" font-style="normal" fill="#262626" >Δn = 10<tspan font-size="7" dy="-4.8">-11</tspan></text>
<text x="289.80" y="121.50" font-size="12" text-anchor="start" font-weight="normal" font-style="normal" fill="#262626" >c3: output phase shift</text>
<text x="258.20" y="141.60" font-size="12" text-anchor="middle" font-weight="normal" font-style="normal" fill="#262626" >0</text>
<text x="442.90" y="141.60" font-size="12" text-anchor="middle" font-weight="normal" font-style="normal" fill="#262626" >240</text>
<text x="333.80" y="141.60" font-size="12" text-anchor="start" font-weight="normal" font-style="normal" fill="#262626" ><tspan font-style="italic">z</tspan> (μm)</text>
<text transform="translate(247.20,92.80) rotate(-90)" font-size="12" fill="#262626">|Φ<tspan font-size="7.5" font-style="normal" dy="3.2">R</tspan><tspan dy="-3.2">|</tspan><tspan font-size="7.5" dy="-4.8">2</tspan><tspan dy="4.8">-|Φ</tspan><tspan font-size="7.5" font-style="normal" dy="3.2">L</tspan><tspan dy="-3.2">|</tspan><tspan font-size="7.5" dy="-4.8">2</tspan></text>
<polyline points="484.70,64.44 485.16,66.70 485.62,68.97 486.09,71.22 486.55,73.45 487.01,75.66 487.47,77.82 487.93,79.94 488.40,82.00 488.86,83.99 489.32,85.91 489.78,87.75 490.24,89.49 490.71,91.14 491.17,92.69 491.63,94.12 492.09,95.44 492.55,96.63 493.02,97.70 493.48,98.64 493.94,99.44 494.40,100.10 494.86,100.62 495.33,100.99 495.79,101.22 496.25,101.30 496.71,101.23 497.17,101.02 497.64,100.66 498.10,100.16 498.56,99.52 499.02,98.73 499.48,97.81 499.95,96.76 500.41,95.57 500.87,94.27 501.33,92.85 501.79,91.31 502.26,89.68 502.72,87.94 503.18,86.11 503.64,84.20 504.10,82.22 504.57,80.16 505.03,78.05 505.49,75.89 505.95,73.69 506.41,71.46 506.88,69.21 507.34,66.95 507.80,64.68 508.26,62.43 508.72,60.18 509.19,57.97 509.65,55.79 510.11,53.65 510.57,51.57 511.03,49.55 511.50,47.60 511.96,45.74 512.42,43.95 512.88,42.27 513.34,40.68 513.81,39.21 514.27,37.84 514.73,36.60 515.19,35.49 515.65,34.50 516.12,33.65 516.58,32.93 517.04,32.36 517.50,31.93 517.96,31.65 518.43,31.51 518.89,31.52 519.35,31.68 519.81,31.98 520.27,32.43 520.74,33.03 521.20,33.76 521.66,34.63 522.12,35.63 522.58,36.77 523.05,38.02 523.51,39.40 523.97,40.90 524.43,42.50 524.89,44.20 525.36,45.99 525.82,47.87 526.28,49.83 526.74,51.86 527.20,53.95 527.67,56.09 528.13,58.27 528.59,60.49 529.05,62.74 529.51,65.00 529.98,67.26 530.44,69.53 530.90,71.77 531.36,74.00 531.82,76.20 532.29,78.35 532.75,80.45 533.21,82.50 533.67,84.47 534.13,86.37 534.60,88.19 535.06,89.91 535.52,91.53 535.98,93.05 536.44,94.46 536.91,95.75 537.37,96.91 537.83,97.94 538.29,98.85 538.75,99.61 539.22,100.24 539.68,100.72 540.14,101.06 540.60,101.25 541.06,101.30 541.53,101.20 541.99,100.95 542.45,100.55 542.91,100.01 543.37,99.33 543.84,98.52 544.30,97.56 544.76,96.48 545.22,95.26 545.68,93.93 546.15,92.48 546.61,90.92 547.07,89.26 547.53,87.50 547.99,85.65 548.46,83.72 548.92,81.72 549.38,79.65 549.84,77.52 550.30,75.35 550.77,73.15 551.23,70.91 551.69,68.66 552.15,66.39 552.61,64.13 553.08,61.87 553.54,59.63 554.00,57.43 554.46,55.26 554.92,53.13 555.39,51.07 555.85,49.06 556.31,47.14 556.77,45.29 557.23,43.53 557.70,41.87 558.16,40.31 558.62,38.86 559.08,37.53 559.54,36.31 560.01,35.23 560.47,34.28 560.93,33.46 561.39,32.78 561.85,32.24 562.32,31.85 562.78,31.60 563.24,31.50 563.70,31.55 564.16,31.74 564.63,32.08 565.09,32.57 565.55,33.19 566.01,33.96 566.47,34.86 566.94,35.90 567.40,37.07 567.86,38.35 568.32,39.76 568.78,41.28 569.25,42.91 569.71,44.63 570.17,46.45 570.63,48.35 571.09,50.32 571.56,52.37 572.02,54.47 572.48,56.62 572.94,58.82 573.40,61.04 573.87,63.29 574.33,65.56 574.79,67.82 575.25,70.08 575.71,72.33 576.18,74.55 576.64,76.73 577.10,78.87 577.56,80.96 578.02,82.99 578.49,84.95 578.95,86.83 579.41,88.62 579.87,90.32 580.33,91.92 580.80,93.41 581.26,94.79 581.72,96.04 582.18,97.18 582.64,98.18 583.11,99.05 583.57,99.78 584.03,100.37 584.49,100.82 584.95,101.12 585.42,101.28 585.88,101.29 586.34,101.15 586.80,100.86 587.26,100.43 587.73,99.86 588.19,99.15 588.65,98.29 589.11,97.31 589.57,96.19 590.04,94.95 590.50,93.58 590.96,92.10 591.42,90.52 591.88,88.83 592.35,87.05 592.81,85.18 593.27,83.23 593.73,81.21 594.19,79.13 594.66,76.99 595.12,74.81 595.58,72.60 596.04,70.36 596.50,68.10 596.97,65.83 597.43,63.57 597.89,61.32 598.35,59.09 598.81,56.89 599.28,54.73 599.74,52.62 600.20,50.57 600.66,48.58 601.12,46.67 601.59,44.85 602.05,43.11 602.51,41.47 602.97,39.94 603.43,38.52 603.90,37.21 604.36,36.03 604.82,34.98 605.28,34.06 605.74,33.28 606.21,32.63 606.67,32.13 607.13,31.78 607.59,31.56 608.05,31.50 608.52,31.58 608.98,31.81 609.44,32.19 609.90,32.71 610.36,33.37 610.83,34.17 611.29,35.11 611.75,36.18 612.21,37.37 612.67,38.69 613.14,40.13 613.60,41.67 614.06,43.32 614.52,45.07 614.98,46.91 615.45,48.83 615.91,50.82 616.37,52.88 616.83,55.00 617.29,57.16 617.76,59.36 618.22,61.60 618.68,63.85 619.14,66.12 619.60,68.38 620.07,70.64 620.53,72.88 620.99,75.09 621.45,77.26 621.91,79.39 622.38,81.47 622.84,83.48 623.30,85.42 623.76,87.28 624.22,89.05 624.69,90.72 625.15,92.30 625.61,93.76 626.07,95.11 626.53,96.34 627.00,97.44 627.46,98.41 627.92,99.24 628.38,99.94 628.84,100.49 629.31,100.91 629.77,101.17 630.23,101.29 630.69,101.27 631.15,101.09 631.62,100.77 632.08,100.30 632.54,99.70 633.00,98.95 633.46,98.06 633.93,97.04 634.39,95.89 634.85,94.62 635.31,93.23 635.77,91.72 636.24,90.11 636.70,88.40 637.16,86.59 637.62,84.71 638.08,82.74 638.55,80.70 639.01,78.61 639.47,76.46 639.93,74.27 640.39,72.05 640.86,69.80 641.32,67.54 641.78,65.27 642.24,63.01 642.70,60.76 643.17,58.54 643.63,56.35 644.09,54.20 644.55,52.11 645.01,50.07 645.48,48.10 645.94,46.21 646.40,44.41 646.86,42.70 647.32,41.08 647.79,39.58 648.25,38.19 648.71,36.91 649.17,35.76 649.63,34.74 650.10,33.86 650.56,33.11 651.02,32.50 651.48,32.03 651.94,31.71 652.41,31.54 652.87,31.51 653.33,31.63 653.79,31.89 654.25,32.30 654.72,32.86 655.18,33.55 655.64,34.39 656.10,35.36 656.56,36.46 657.03,37.69 657.49,39.03 657.95,40.50 658.41,42.07 658.87,43.74 659.34,45.52 659.80,47.37 660.26,49.31 660.72,51.32 661.18,53.40 661.65,55.53 662.11,57.70 662.57,59.91 663.03,62.15 663.49,64.41 663.96,66.67 664.42,68.94 664.88,71.19 665.34,73.43 665.80,75.63 666.27,77.79 666.73,79.91 667.19,81.97 667.65,83.96 668.11,85.88 668.58,87.72 669.04,89.47 669.50,91.12" fill="none" stroke="#1a6fb5" stroke-width="2.6" stroke-linejoin="round"/>
<line x1="484.50" y1="66.3" x2="670.50" y2="66.3" stroke="#1a1a1a" stroke-width="2.1" stroke-dasharray="10.3 10.4" stroke-dashoffset="5.3"/>
<rect x="484.50" y="0.85" width="186.00" height="127.4" fill="none" stroke="#262626" stroke-width="1.6"/>
<line x1="563.33" y1="30.50" x2="608.03" y2="30.50" stroke="#262626" stroke-width="1.1"/>
<polyline points="567.33,26.90 563.33,30.50 567.33,34.10" fill="none" stroke="#262626" stroke-width="1.1"/>
<polyline points="604.03,26.90 608.03,30.50 604.03,34.10" fill="none" stroke="#262626" stroke-width="1.1"/>
<text x="560.50" y="22.60" font-size="12" text-anchor="start" font-weight="normal" font-style="normal" fill="#262626" >56.84 μm</text>
<text x="489.30" y="16.60" font-size="12" text-anchor="start" font-weight="normal" font-style="normal" fill="#262626" >Δn = 10<tspan font-size="7" dy="-4.8">-10</tspan></text>
<text x="513.10" y="121.50" font-size="12" text-anchor="start" font-weight="normal" font-style="normal" fill="#262626" >c4: output phase shift</text>
<text x="481.30" y="141.60" font-size="12" text-anchor="middle" font-weight="normal" font-style="normal" fill="#262626" >0</text>
<text x="668.50" y="141.60" font-size="12" text-anchor="middle" font-weight="normal" font-style="normal" fill="#262626" >240</text>
<text x="560.40" y="141.60" font-size="12" text-anchor="start" font-weight="normal" font-style="normal" fill="#262626" ><tspan font-style="italic">z</tspan> (μm)</text>
<text transform="translate(471.20,92.80) rotate(-90)" font-size="12" fill="#262626">|Φ<tspan font-size="7.5" font-style="normal" dy="3.2">R</tspan><tspan dy="-3.2">|</tspan><tspan font-size="7.5" dy="-4.8">2</tspan><tspan dy="4.8">-|Φ</tspan><tspan font-size="7.5" font-style="normal" dy="3.2">L</tspan><tspan dy="-3.2">|</tspan><tspan font-size="7.5" dy="-4.8">2</tspan></text>
<text x="-0.60" y="9.70" font-size="12" text-anchor="start" font-weight="bold" font-style="normal" fill="#000" >a</text>
<text x="242.60" y="11.40" font-size="12" text-anchor="start" font-weight="bold" font-style="normal" fill="#000" >b</text>
<text x="469.00" y="11.40" font-size="12" text-anchor="start" font-weight="bold" font-style="normal" fill="#000" >c</text>
<ellipse cx="39.70" cy="66.40" rx="4.10" ry="6.10" fill="none" stroke="#ee1c25" stroke-width="1.6"/>
<ellipse cx="218.40" cy="66.50" rx="4.10" ry="6.10" fill="none" stroke="#ee1c25" stroke-width="1.6"/>
<ellipse cx="442.20" cy="80.00" rx="4.10" ry="6.10" fill="none" stroke="#ee1c25" stroke-width="1.6"/>
<ellipse cx="666.30" cy="90.30" rx="4.10" ry="6.10" fill="none" stroke="#ee1c25" stroke-width="1.6"/>
<text x="39.40" y="57.80" font-size="12" text-anchor="start" font-weight="normal" font-style="normal" fill="#262626" >c1</text>
<line x1="200.00" y1="72.00" x2="209.60" y2="72.00" stroke="#1a1a1a" stroke-width="1.1"/>
<polygon points="213.60,72.00 207.40,69.50 208.60,72.00 207.40,74.50" fill="#1a1a1a"/>
<text x="207.00" y="84.70" font-size="12" text-anchor="start" font-weight="normal" font-style="normal" fill="#262626" >c2</text>
<line x1="422.20" y1="80.40" x2="432.60" y2="80.40" stroke="#1a1a1a" stroke-width="1.1"/>
<polygon points="436.60,80.40 430.40,77.90 431.60,80.40 430.40,82.90" fill="#1a1a1a"/>
<text x="425.50" y="94.60" font-size="12" text-anchor="start" font-weight="normal" font-style="normal" fill="#262626" >c3</text>
<line x1="645.30" y1="89.80" x2="656.00" y2="89.80" stroke="#1a1a1a" stroke-width="1.1"/>
<polygon points="660.00,89.80 653.80,87.30 655.00,89.80 653.80,92.30" fill="#1a1a1a"/>
<text x="649.30" y="105.20" font-size="12" text-anchor="start" font-weight="normal" font-style="normal" fill="#262626" >c4</text>
<line x1="80.78" y1="164.18" x2="86.42" y2="156.42" stroke="#fff" stroke-width="1.9" stroke-linecap="butt"/>
<line x1="99.11" y1="163.98" x2="105.29" y2="156.62" stroke="#fff" stroke-width="1.9" stroke-linecap="butt"/>
<line x1="116.87" y1="163.05" x2="124.73" y2="157.55" stroke="#fff" stroke-width="1.9" stroke-linecap="butt"/>
<line x1="65.00" y1="183.70" x2="65.00" y2="174.10" stroke="#fff" stroke-width="1.9" stroke-linecap="butt"/>
<line x1="81.06" y1="182.97" x2="86.14" y2="174.83" stroke="#fff" stroke-width="1.9" stroke-linecap="butt"/>
<line x1="99.11" y1="182.58" x2="105.29" y2="175.22" stroke="#fff" stroke-width="1.9" stroke-linecap="butt"/>
<line x1="116.73" y1="181.44" x2="124.87" y2="176.36" stroke="#fff" stroke-width="1.9" stroke-linecap="butt"/>
<line x1="134.69" y1="179.82" x2="144.11" y2="177.98" stroke="#fff" stroke-width="1.9" stroke-linecap="butt"/>
<line x1="43.44" y1="193.72" x2="49.36" y2="201.28" stroke="#fff" stroke-width="1.9" stroke-linecap="butt"/>
<line x1="62.32" y1="193.52" x2="67.68" y2="201.48" stroke="#fff" stroke-width="1.9" stroke-linecap="butt"/>
<line x1="83.60" y1="202.30" x2="83.60" y2="192.70" stroke="#fff" stroke-width="1.9" stroke-linecap="butt"/>
<line x1="99.11" y1="201.18" x2="105.29" y2="193.82" stroke="#fff" stroke-width="1.9" stroke-linecap="butt"/>
<line x1="116.16" y1="198.74" x2="125.44" y2="196.26" stroke="#fff" stroke-width="1.9" stroke-linecap="butt"/>
<line x1="135.20" y1="195.17" x2="143.60" y2="199.83" stroke="#fff" stroke-width="1.9" stroke-linecap="butt"/>
<line x1="154.02" y1="194.82" x2="161.98" y2="200.18" stroke="#fff" stroke-width="1.9" stroke-linecap="butt"/>
<line x1="42.83" y1="212.89" x2="49.97" y2="219.31" stroke="#fff" stroke-width="1.9" stroke-linecap="butt"/>
<line x1="61.67" y1="212.65" x2="68.33" y2="219.55" stroke="#fff" stroke-width="1.9" stroke-linecap="butt"/>
<line x1="80.15" y1="212.77" x2="87.05" y2="219.43" stroke="#fff" stroke-width="1.9" stroke-linecap="butt"/>
<line x1="102.20" y1="220.90" x2="102.20" y2="211.30" stroke="#fff" stroke-width="1.9" stroke-linecap="butt"/>
<line x1="117.35" y1="212.77" x2="124.25" y2="219.43" stroke="#fff" stroke-width="1.9" stroke-linecap="butt"/>
<line x1="135.95" y1="212.77" x2="142.85" y2="219.43" stroke="#fff" stroke-width="1.9" stroke-linecap="butt"/>
<line x1="154.61" y1="212.71" x2="161.39" y2="219.49" stroke="#fff" stroke-width="1.9" stroke-linecap="butt"/>
<line x1="42.57" y1="231.81" x2="50.23" y2="237.59" stroke="#fff" stroke-width="1.9" stroke-linecap="butt"/>
<line x1="60.89" y1="232.23" x2="69.11" y2="237.17" stroke="#fff" stroke-width="1.9" stroke-linecap="butt"/>
<line x1="79.01" y1="233.30" x2="88.19" y2="236.10" stroke="#fff" stroke-width="1.9" stroke-linecap="butt"/>
<line x1="98.63" y1="237.91" x2="105.77" y2="231.49" stroke="#fff" stroke-width="1.9" stroke-linecap="butt"/>
<line x1="120.80" y1="239.50" x2="120.80" y2="229.90" stroke="#fff" stroke-width="1.9" stroke-linecap="butt"/>
<line x1="136.93" y1="230.59" x2="141.87" y2="238.81" stroke="#fff" stroke-width="1.9" stroke-linecap="butt"/>
<line x1="154.98" y1="230.97" x2="161.02" y2="238.43" stroke="#fff" stroke-width="1.9" stroke-linecap="butt"/>
<line x1="60.34" y1="252.14" x2="69.66" y2="254.46" stroke="#fff" stroke-width="1.9" stroke-linecap="butt"/>
<line x1="79.36" y1="255.55" x2="87.84" y2="251.05" stroke="#fff" stroke-width="1.9" stroke-linecap="butt"/>
<line x1="98.75" y1="256.63" x2="105.65" y2="249.97" stroke="#fff" stroke-width="1.9" stroke-linecap="butt"/>
<line x1="118.12" y1="257.28" x2="123.48" y2="249.32" stroke="#fff" stroke-width="1.9" stroke-linecap="butt"/>
<line x1="139.40" y1="258.10" x2="139.40" y2="248.50" stroke="#fff" stroke-width="1.9" stroke-linecap="butt"/>
<line x1="79.72" y1="274.72" x2="87.48" y2="269.08" stroke="#fff" stroke-width="1.9" stroke-linecap="butt"/>
<line x1="98.69" y1="275.17" x2="105.71" y2="268.63" stroke="#fff" stroke-width="1.9" stroke-linecap="butt"/>
<line x1="117.78" y1="275.63" x2="123.82" y2="268.17" stroke="#fff" stroke-width="1.9" stroke-linecap="butt"/>
<line x1="244.08" y1="164.18" x2="249.72" y2="156.42" stroke="#fff" stroke-width="1.9" stroke-linecap="butt"/>
<line x1="262.41" y1="163.98" x2="268.59" y2="156.62" stroke="#fff" stroke-width="1.9" stroke-linecap="butt"/>
<line x1="280.17" y1="163.05" x2="288.03" y2="157.55" stroke="#fff" stroke-width="1.9" stroke-linecap="butt"/>
<line x1="228.30" y1="183.70" x2="228.30" y2="174.10" stroke="#fff" stroke-width="1.9" stroke-linecap="butt"/>
<line x1="244.36" y1="182.97" x2="249.44" y2="174.83" stroke="#fff" stroke-width="1.9" stroke-linecap="butt"/>
<line x1="262.41" y1="182.58" x2="268.59" y2="175.22" stroke="#fff" stroke-width="1.9" stroke-linecap="butt"/>
<line x1="280.03" y1="181.44" x2="288.17" y2="176.36" stroke="#fff" stroke-width="1.9" stroke-linecap="butt"/>
<line x1="297.99" y1="179.82" x2="307.41" y2="177.98" stroke="#fff" stroke-width="1.9" stroke-linecap="butt"/>
<line x1="206.74" y1="193.72" x2="212.66" y2="201.28" stroke="#fff" stroke-width="1.9" stroke-linecap="butt"/>
<line x1="225.62" y1="193.52" x2="230.98" y2="201.48" stroke="#fff" stroke-width="1.9" stroke-linecap="butt"/>
<line x1="246.90" y1="202.30" x2="246.90" y2="192.70" stroke="#fff" stroke-width="1.9" stroke-linecap="butt"/>
<line x1="262.41" y1="201.18" x2="268.59" y2="193.82" stroke="#fff" stroke-width="1.9" stroke-linecap="butt"/>
<line x1="279.46" y1="198.74" x2="288.74" y2="196.26" stroke="#fff" stroke-width="1.9" stroke-linecap="butt"/>
<line x1="298.50" y1="195.17" x2="306.90" y2="199.83" stroke="#fff" stroke-width="1.9" stroke-linecap="butt"/>
<line x1="317.32" y1="194.82" x2="325.28" y2="200.18" stroke="#fff" stroke-width="1.9" stroke-linecap="butt"/>
<line x1="206.13" y1="212.89" x2="213.27" y2="219.31" stroke="#fff" stroke-width="1.9" stroke-linecap="butt"/>
<line x1="224.97" y1="212.65" x2="231.63" y2="219.55" stroke="#fff" stroke-width="1.9" stroke-linecap="butt"/>
<line x1="243.45" y1="212.77" x2="250.35" y2="219.43" stroke="#fff" stroke-width="1.9" stroke-linecap="butt"/>
<line x1="265.50" y1="220.90" x2="265.50" y2="211.30" stroke="#fff" stroke-width="1.9" stroke-linecap="butt"/>
<line x1="280.65" y1="212.77" x2="287.55" y2="219.43" stroke="#fff" stroke-width="1.9" stroke-linecap="butt"/>
<line x1="299.25" y1="212.77" x2="306.15" y2="219.43" stroke="#fff" stroke-width="1.9" stroke-linecap="butt"/>
<line x1="317.91" y1="212.71" x2="324.69" y2="219.49" stroke="#fff" stroke-width="1.9" stroke-linecap="butt"/>
<line x1="205.87" y1="231.81" x2="213.53" y2="237.59" stroke="#fff" stroke-width="1.9" stroke-linecap="butt"/>
<line x1="224.19" y1="232.23" x2="232.41" y2="237.17" stroke="#fff" stroke-width="1.9" stroke-linecap="butt"/>
<line x1="242.31" y1="233.30" x2="251.49" y2="236.10" stroke="#fff" stroke-width="1.9" stroke-linecap="butt"/>
<line x1="261.93" y1="237.91" x2="269.07" y2="231.49" stroke="#fff" stroke-width="1.9" stroke-linecap="butt"/>
<line x1="284.10" y1="239.50" x2="284.10" y2="229.90" stroke="#fff" stroke-width="1.9" stroke-linecap="butt"/>
<line x1="300.23" y1="230.59" x2="305.17" y2="238.81" stroke="#fff" stroke-width="1.9" stroke-linecap="butt"/>
<line x1="318.28" y1="230.97" x2="324.32" y2="238.43" stroke="#fff" stroke-width="1.9" stroke-linecap="butt"/>
<line x1="223.64" y1="252.14" x2="232.96" y2="254.46" stroke="#fff" stroke-width="1.9" stroke-linecap="butt"/>
<line x1="242.66" y1="255.55" x2="251.14" y2="251.05" stroke="#fff" stroke-width="1.9" stroke-linecap="butt"/>
<line x1="262.05" y1="256.63" x2="268.95" y2="249.97" stroke="#fff" stroke-width="1.9" stroke-linecap="butt"/>
<line x1="281.42" y1="257.28" x2="286.78" y2="249.32" stroke="#fff" stroke-width="1.9" stroke-linecap="butt"/>
<line x1="302.70" y1="258.10" x2="302.70" y2="248.50" stroke="#fff" stroke-width="1.9" stroke-linecap="butt"/>
<line x1="243.02" y1="274.72" x2="250.78" y2="269.08" stroke="#fff" stroke-width="1.9" stroke-linecap="butt"/>
<line x1="261.99" y1="275.17" x2="269.01" y2="268.63" stroke="#fff" stroke-width="1.9" stroke-linecap="butt"/>
<line x1="281.08" y1="275.63" x2="287.12" y2="268.17" stroke="#fff" stroke-width="1.9" stroke-linecap="butt"/>
<ellipse cx="0" cy="0" rx="4.30" ry="1.75" transform="translate(408.93 160.29) rotate(65.0)" fill="none" stroke="#fff" stroke-width="1.6"/>
<ellipse cx="0" cy="0" rx="4.30" ry="1.75" transform="translate(427.80 160.29) rotate(55.0)" fill="none" stroke="#fff" stroke-width="1.6"/>
<ellipse cx="0" cy="0" rx="4.30" ry="1.75" transform="translate(446.67 160.29) rotate(30.0)" fill="none" stroke="#fff" stroke-width="1.6"/>
<ellipse cx="0" cy="0" rx="4.30" ry="1.75" transform="translate(390.06 179.16) rotate(-83.0)" fill="none" stroke="#fff" stroke-width="1.6"/>
<ellipse cx="0" cy="0" rx="4.30" ry="1.75" transform="translate(408.93 179.16) rotate(70.0)" fill="none" stroke="#fff" stroke-width="1.6"/>
<ellipse cx="0" cy="0" rx="4.30" ry="1.75" transform="translate(427.80 179.16) rotate(55.0)" fill="none" stroke="#fff" stroke-width="1.6"/>
<ellipse cx="0" cy="0" rx="4.30" ry="1.75" transform="translate(446.67 179.16) rotate(28.0)" fill="none" stroke="#fff" stroke-width="1.6"/>
<ellipse cx="0" cy="0" rx="4.30" ry="1.75" transform="translate(465.54 179.16) rotate(8.0)" fill="none" stroke="#fff" stroke-width="1.6"/>
<ellipse cx="0" cy="0" rx="4.30" ry="1.75" transform="translate(371.19 198.03) rotate(-70.0)" fill="none" stroke="#fff" stroke-width="1.6"/>
<ellipse cx="0" cy="0" rx="4.30" ry="1.75" transform="translate(390.06 198.03) rotate(-70.0)" fill="none" stroke="#fff" stroke-width="1.6"/>
<ellipse cx="0" cy="0" rx="4.30" ry="1.75" transform="translate(408.93 198.03) rotate(-90.0)" fill="none" stroke="#fff" stroke-width="1.6"/>
<ellipse cx="0" cy="0" rx="4.30" ry="1.75" transform="translate(427.80 198.03) rotate(62.0)" fill="none" stroke="#fff" stroke-width="1.6"/>
<ellipse cx="0" cy="0" rx="4.30" ry="1.75" transform="translate(446.67 198.03) rotate(15.0)" fill="none" stroke="#fff" stroke-width="1.6"/>
<ellipse cx="0" cy="0" rx="4.30" ry="1.75" transform="translate(465.54 198.03) rotate(-8.0)" fill="none" stroke="#fff" stroke-width="1.6"/>
<ellipse cx="0" cy="0" rx="4.30" ry="1.75" transform="translate(484.41 198.03) rotate(-20.0)" fill="none" stroke="#fff" stroke-width="1.6"/>
<ellipse cx="0" cy="0" rx="4.30" ry="1.75" transform="translate(371.19 216.90) rotate(-57.0)" fill="none" stroke="#fff" stroke-width="1.6"/>
<ellipse cx="0" cy="0" rx="4.30" ry="1.75" transform="translate(390.06 216.90) rotate(-52.0)" fill="none" stroke="#fff" stroke-width="1.6"/>
<ellipse cx="0" cy="0" rx="4.30" ry="1.75" transform="translate(408.93 216.90) rotate(-57.0)" fill="none" stroke="#fff" stroke-width="1.6"/>
<ellipse cx="0" cy="0" rx="4.30" ry="1.75" transform="translate(427.80 216.90) rotate(-90.0)" fill="none" stroke="#fff" stroke-width="1.6"/>
<ellipse cx="0" cy="0" rx="4.30" ry="1.75" transform="translate(446.67 216.90) rotate(-25.0)" fill="none" stroke="#fff" stroke-width="1.6"/>
<ellipse cx="0" cy="0" rx="4.30" ry="1.75" transform="translate(465.54 216.90) rotate(-35.0)" fill="none" stroke="#fff" stroke-width="1.6"/>
<ellipse cx="0" cy="0" rx="4.30" ry="1.75" transform="translate(484.41 216.90) rotate(-35.0)" fill="none" stroke="#fff" stroke-width="1.6"/>
<ellipse cx="0" cy="0" rx="4.30" ry="1.75" transform="translate(371.19 235.77) rotate(-30.0)" fill="none" stroke="#fff" stroke-width="1.6"/>
<ellipse cx="0" cy="0" rx="4.30" ry="1.75" transform="translate(390.06 235.77) rotate(-25.0)" fill="none" stroke="#fff" stroke-width="1.6"/>
<ellipse cx="0" cy="0" rx="4.30" ry="1.75" transform="translate(408.93 235.77) rotate(-20.0)" fill="none" stroke="#fff" stroke-width="1.6"/>
<ellipse cx="0" cy="0" rx="4.30" ry="1.75" transform="translate(427.80 235.77) rotate(17.0)" fill="none" stroke="#fff" stroke-width="1.6"/>
<ellipse cx="0" cy="0" rx="4.30" ry="1.75" transform="translate(446.67 235.77) rotate(-88.0)" fill="none" stroke="#fff" stroke-width="1.6"/>
<ellipse cx="0" cy="0" rx="4.30" ry="1.75" transform="translate(465.54 235.77) rotate(-65.0)" fill="none" stroke="#fff" stroke-width="1.6"/>
<ellipse cx="0" cy="0" rx="4.30" ry="1.75" transform="translate(484.41 235.77) rotate(-60.0)" fill="none" stroke="#fff" stroke-width="1.6"/>
<ellipse cx="0" cy="0" rx="4.30" ry="1.75" transform="translate(390.06 254.64) rotate(-5.0)" fill="none" stroke="#fff" stroke-width="1.6"/>
<ellipse cx="0" cy="0" rx="4.30" ry="1.75" transform="translate(408.93 254.64) rotate(5.0)" fill="none" stroke="#fff" stroke-width="1.6"/>
<ellipse cx="0" cy="0" rx="4.30" ry="1.75" transform="translate(427.80 254.64) rotate(35.0)" fill="none" stroke="#fff" stroke-width="1.6"/>
<ellipse cx="0" cy="0" rx="4.30" ry="1.75" transform="translate(446.67 254.64) rotate(70.0)" fill="none" stroke="#fff" stroke-width="1.6"/>
<ellipse cx="0" cy="0" rx="4.30" ry="1.75" transform="translate(465.54 254.64) rotate(-90.0)" fill="none" stroke="#fff" stroke-width="1.6"/>
<ellipse cx="0" cy="0" rx="4.30" ry="1.75" transform="translate(408.93 273.51) rotate(20.0)" fill="none" stroke="#fff" stroke-width="1.6"/>
<ellipse cx="0" cy="0" rx="4.30" ry="1.75" transform="translate(427.80 273.51) rotate(40.0)" fill="none" stroke="#fff" stroke-width="1.6"/>
<ellipse cx="0" cy="0" rx="4.30" ry="1.75" transform="translate(446.67 273.51) rotate(65.0)" fill="none" stroke="#fff" stroke-width="1.6"/>
<ellipse cx="0" cy="0" rx="4.60" ry="3.05" transform="translate(573.80 160.30) rotate(-80.0)" fill="none" stroke="#fff" stroke-width="1.6"/>
<ellipse cx="0" cy="0" rx="4.60" ry="3.05" transform="translate(592.40 160.30) rotate(70.0)" fill="none" stroke="#fff" stroke-width="1.6"/>
<ellipse cx="0" cy="0" rx="4.60" ry="3.05" transform="translate(611.00 160.30) rotate(55.0)" fill="none" stroke="#fff" stroke-width="1.6"/>
<ellipse cx="0" cy="0" rx="4.60" ry="3.05" transform="translate(555.20 178.90) rotate(-85.0)" fill="none" stroke="#fff" stroke-width="1.6"/>
<ellipse cx="0" cy="0" rx="4.60" ry="3.05" transform="translate(573.80 178.90) rotate(-80.0)" fill="none" stroke="#fff" stroke-width="1.6"/>
<ellipse cx="0" cy="0" rx="4.60" ry="3.05" transform="translate(592.40 178.90) rotate(75.0)" fill="none" stroke="#fff" stroke-width="1.6"/>
<ellipse cx="0" cy="0" rx="4.60" ry="3.05" transform="translate(611.00 178.90) rotate(60.0)" fill="none" stroke="#fff" stroke-width="1.6"/>
<ellipse cx="0" cy="0" rx="4.60" ry="3.05" transform="translate(629.60 178.90) rotate(30.0)" fill="none" stroke="#fff" stroke-width="1.6"/>
<ellipse cx="0" cy="0" rx="4.60" ry="3.05" transform="translate(536.60 197.50) rotate(-70.0)" fill="none" stroke="#fff" stroke-width="1.6"/>
<ellipse cx="0" cy="0" rx="4.60" ry="3.05" transform="translate(555.20 197.50) rotate(-75.0)" fill="none" stroke="#fff" stroke-width="1.6"/>
<ellipse cx="0" cy="0" rx="4.60" ry="3.05" transform="translate(573.80 197.50) rotate(-90.0)" fill="none" stroke="#fff" stroke-width="1.6"/>
<ellipse cx="0" cy="0" rx="4.60" ry="3.05" transform="translate(592.40 197.50) rotate(80.0)" fill="none" stroke="#fff" stroke-width="1.6"/>
<ellipse cx="0" cy="0" rx="4.60" ry="3.05" transform="translate(611.00 197.50) rotate(55.0)" fill="none" stroke="#fff" stroke-width="1.6"/>
<ellipse cx="0" cy="0" rx="4.60" ry="3.05" transform="translate(629.60 197.50) rotate(30.0)" fill="none" stroke="#fff" stroke-width="1.6"/>
<ellipse cx="0" cy="0" rx="4.60" ry="3.05" transform="translate(648.20 197.50) rotate(10.0)" fill="none" stroke="#fff" stroke-width="1.6"/>
<ellipse cx="0" cy="0" rx="4.60" ry="3.05" transform="translate(536.60 216.10) rotate(-62.0)" fill="none" stroke="#fff" stroke-width="1.6"/>
<ellipse cx="0" cy="0" rx="4.60" ry="3.05" transform="translate(555.20 216.10) rotate(-62.0)" fill="none" stroke="#fff" stroke-width="1.6"/>
<ellipse cx="0" cy="0" rx="4.60" ry="3.05" transform="translate(573.80 216.10) rotate(-72.0)" fill="none" stroke="#fff" stroke-width="1.6"/>
<ellipse cx="0" cy="0" rx="4.60" ry="3.05" transform="translate(592.40 216.10) rotate(-95.0)" fill="none" stroke="#fff" stroke-width="1.6"/>
<ellipse cx="0" cy="0" rx="4.60" ry="3.05" transform="translate(611.00 216.10) rotate(60.0)" fill="none" stroke="#fff" stroke-width="1.6"/>
<ellipse cx="0" cy="0" rx="4.60" ry="3.05" transform="translate(629.60 216.10) rotate(25.0)" fill="none" stroke="#fff" stroke-width="1.6"/>
<ellipse cx="0" cy="0" rx="4.60" ry="3.05" transform="translate(648.20 216.10) rotate(5.0)" fill="none" stroke="#fff" stroke-width="1.6"/>
<ellipse cx="0" cy="0" rx="4.60" ry="3.05" transform="translate(536.60 234.70) rotate(-50.0)" fill="none" stroke="#fff" stroke-width="1.6"/>
<ellipse cx="0" cy="0" rx="4.60" ry="3.05" transform="translate(555.20 234.70) rotate(-50.0)" fill="none" stroke="#fff" stroke-width="1.6"/>
<ellipse cx="0" cy="0" rx="4.60" ry="3.05" transform="translate(573.80 234.70) rotate(-55.0)" fill="none" stroke="#fff" stroke-width="1.6"/>
<ellipse cx="0" cy="0" rx="4.60" ry="3.05" transform="translate(592.40 234.70) rotate(-60.0)" fill="none" stroke="#fff" stroke-width="1.6"/>
<ellipse cx="0" cy="0" rx="4.60" ry="3.05" transform="translate(611.00 234.70) rotate(-95.0)" fill="none" stroke="#fff" stroke-width="1.6"/>
<ellipse cx="0" cy="0" rx="4.60" ry="3.05" transform="translate(629.60 234.70) rotate(-3.0)" fill="none" stroke="#fff" stroke-width="1.6"/>
<ellipse cx="0" cy="0" rx="4.60" ry="3.05" transform="translate(648.20 234.70) rotate(-25.0)" fill="none" stroke="#fff" stroke-width="1.6"/>
<ellipse cx="0" cy="0" rx="4.60" ry="3.05" transform="translate(555.20 253.30) rotate(-35.0)" fill="none" stroke="#fff" stroke-width="1.6"/>
<ellipse cx="0" cy="0" rx="4.60" ry="3.05" transform="translate(573.80 253.30) rotate(-30.0)" fill="none" stroke="#fff" stroke-width="1.6"/>
<ellipse cx="0" cy="0" rx="4.60" ry="3.05" transform="translate(592.40 253.30) rotate(-25.0)" fill="none" stroke="#fff" stroke-width="1.6"/>
<ellipse cx="0" cy="0" rx="4.60" ry="3.05" transform="translate(611.00 253.30) rotate(10.0)" fill="none" stroke="#fff" stroke-width="1.6"/>
<ellipse cx="0" cy="0" rx="4.60" ry="3.05" transform="translate(629.60 253.30) rotate(-90.0)" fill="none" stroke="#fff" stroke-width="1.6"/>
<ellipse cx="0" cy="0" rx="4.60" ry="3.05" transform="translate(573.80 271.90) rotate(-15.0)" fill="none" stroke="#fff" stroke-width="1.6"/>
<ellipse cx="0" cy="0" rx="4.60" ry="3.05" transform="translate(592.40 271.90) rotate(-5.0)" fill="none" stroke="#fff" stroke-width="1.6"/>
<ellipse cx="0" cy="0" rx="4.60" ry="3.05" transform="translate(611.00 271.90) rotate(30.0)" fill="none" stroke="#fff" stroke-width="1.6"/>
<text x="0.00" y="161.80" font-size="12" text-anchor="start" font-weight="bold" font-style="normal" fill="#000">d</text>
<text x="31.40" y="161.80" font-size="12" text-anchor="end" font-weight="normal" font-style="normal" fill="#262626">-0.5</text>
<text x="30.90" y="280.40" font-size="12" text-anchor="end" font-weight="normal" font-style="normal" fill="#262626">0.5</text>
<text x="32.60" y="295.80" font-size="12" text-anchor="start" font-weight="normal" font-style="normal" fill="#262626">-0.5</text>
<text x="166.90" y="295.80" font-size="12" text-anchor="end" font-weight="normal" font-style="normal" fill="#262626">0.5</text>
<text x="83.30" y="295.80" font-size="12" text-anchor="start" font-weight="normal" font-style="normal" fill="#262626"><tspan font-style="italic">x</tspan> (μm)</text>
<text x="174.20" y="161.80" font-size="12" text-anchor="start" font-weight="bold" font-style="normal" fill="#000">e</text>
<text x="195.20" y="161.80" font-size="12" text-anchor="end" font-weight="normal" font-style="normal" fill="#262626">-5</text>
<text x="193.60" y="280.60" font-size="12" text-anchor="end" font-weight="normal" font-style="normal" fill="#262626">5</text>
<text x="195.10" y="295.40" font-size="12" text-anchor="start" font-weight="normal" font-style="normal" fill="#262626">-5</text>
<text x="330.30" y="295.90" font-size="12" text-anchor="end" font-weight="normal" font-style="normal" fill="#262626">5</text>
<text x="246.80" y="295.90" font-size="12" text-anchor="start" font-weight="normal" font-style="normal" fill="#262626"><tspan font-style="italic">x</tspan> (μm)</text>
<text x="337.30" y="161.80" font-size="12" text-anchor="start" font-weight="bold" font-style="normal" fill="#000">f</text>
<text x="358.90" y="161.80" font-size="12" text-anchor="end" font-weight="normal" font-style="normal" fill="#262626">-5</text>
<text x="356.60" y="280.50" font-size="12" text-anchor="end" font-weight="normal" font-style="normal" fill="#262626">5</text>
<text x="357.30" y="295.20" font-size="12" text-anchor="start" font-weight="normal" font-style="normal" fill="#262626">-5</text>
<text x="494.00" y="295.40" font-size="12" text-anchor="end" font-weight="normal" font-style="normal" fill="#262626">5</text>
<text x="408.30" y="295.40" font-size="12" text-anchor="start" font-weight="normal" font-style="normal" fill="#262626"><tspan font-style="italic">x</tspan> (μm)</text>
<text x="501.70" y="161.80" font-size="12" text-anchor="start" font-weight="bold" font-style="normal" fill="#000">g</text>
<text x="522.30" y="161.80" font-size="12" text-anchor="end" font-weight="normal" font-style="normal" fill="#262626">-5</text>
<text x="523.20" y="281.90" font-size="12" text-anchor="end" font-weight="normal" font-style="normal" fill="#262626">5</text>
<text x="523.90" y="295.40" font-size="12" text-anchor="start" font-weight="normal" font-style="normal" fill="#262626">-5</text>
<text x="658.30" y="295.90" font-size="12" text-anchor="end" font-weight="normal" font-style="normal" fill="#262626">5</text>
<text x="574.30" y="295.90" font-size="12" text-anchor="start" font-weight="normal" font-style="normal" fill="#262626"><tspan font-style="italic">x</tspan> (μm)</text>
<polygon points="678.0,149.3 679.35,149.3 679.35,157.8 678.0,157.8 678.0,151.3 676.0,152.9 676.0,151.5" fill="#262626"/>
<text x="674.60" y="281.80" font-size="12" text-anchor="start" font-weight="normal" font-style="normal" fill="#262626">0</text>
<line x1="670.2" y1="170.0" x2="671.6" y2="170.0" stroke="#333" stroke-width="0.8"/>
<line x1="670.2" y1="192.3" x2="671.6" y2="192.3" stroke="#333" stroke-width="0.8"/>
<line x1="670.2" y1="214.5" x2="671.6" y2="214.5" stroke="#333" stroke-width="0.8"/>
<line x1="670.2" y1="236.9" x2="671.6" y2="236.9" stroke="#333" stroke-width="0.8"/>
<line x1="670.2" y1="259.1" x2="671.6" y2="259.1" stroke="#333" stroke-width="0.8"/>
<line x1="670.2" y1="323.0" x2="671.6" y2="323.0" stroke="#333" stroke-width="0.8"/>
<line x1="670.2" y1="345.2" x2="671.6" y2="345.2" stroke="#333" stroke-width="0.8"/>
<line x1="670.2" y1="367.4" x2="671.6" y2="367.4" stroke="#333" stroke-width="0.8"/>
<line x1="670.2" y1="389.6" x2="671.6" y2="389.6" stroke="#333" stroke-width="0.8"/>
<line x1="670.2" y1="411.8" x2="671.6" y2="411.8" stroke="#333" stroke-width="0.8"/>
<text transform="translate(25.10,218.50) rotate(-90)" font-size="12" text-anchor="middle" fill="#262626"><tspan font-style="italic">y</tspan> (μm)</text>
<text transform="translate(189.90,217.60) rotate(-90)" font-size="12" text-anchor="middle" fill="#262626"><tspan font-style="italic">y</tspan> (μm)</text>
<text transform="translate(351.90,217.70) rotate(-90)" font-size="12" text-anchor="middle" fill="#262626"><tspan font-style="italic">y</tspan> (μm)</text>
<text transform="translate(518.30,218.90) rotate(-90)" font-size="12" text-anchor="middle" fill="#262626"><tspan font-style="italic">y</tspan> (μm)</text>
<text x="1.00" y="315.40" font-size="12" text-anchor="start" font-weight="bold" font-style="normal" fill="#000">h</text>
<text x="32.00" y="312.90" font-size="12" text-anchor="end" font-weight="normal" font-style="normal" fill="#262626">-0.5</text>
<text x="30.90" y="433.80" font-size="12" text-anchor="end" font-weight="normal" font-style="normal" fill="#262626">0.5</text>
<text x="31.30" y="449.00" font-size="12" text-anchor="start" font-weight="normal" font-style="normal" fill="#262626">-0.5</text>
<text x="165.00" y="449.00" font-size="12" text-anchor="end" font-weight="normal" font-style="normal" fill="#262626">0.5</text>
<text x="81.60" y="449.00" font-size="12" text-anchor="start" font-weight="normal" font-style="normal" fill="#262626"><tspan font-style="italic">x</tspan> (μm)</text>
<text x="174.70" y="315.40" font-size="12" text-anchor="start" font-weight="bold" font-style="normal" fill="#000">i</text>
<text x="196.00" y="313.40" font-size="12" text-anchor="end" font-weight="normal" font-style="normal" fill="#262626">-5</text>
<text x="193.40" y="432.80" font-size="12" text-anchor="end" font-weight="normal" font-style="normal" fill="#262626">5</text>
<text x="193.40" y="449.00" font-size="12" text-anchor="start" font-weight="normal" font-style="normal" fill="#262626">-5</text>
<text x="329.00" y="449.00" font-size="12" text-anchor="end" font-weight="normal" font-style="normal" fill="#262626">5</text>
<text x="245.00" y="449.00" font-size="12" text-anchor="start" font-weight="normal" font-style="normal" fill="#262626"><tspan font-style="italic">x</tspan> (μm)</text>
<text x="336.90" y="315.40" font-size="12" text-anchor="start" font-weight="bold" font-style="normal" fill="#000">j</text>
<text x="359.30" y="313.40" font-size="12" text-anchor="end" font-weight="normal" font-style="normal" fill="#262626">-5</text>
<text x="357.60" y="433.80" font-size="12" text-anchor="end" font-weight="normal" font-style="normal" fill="#262626">5</text>
<text x="355.90" y="449.00" font-size="12" text-anchor="start" font-weight="normal" font-style="normal" fill="#262626">-5</text>
<text x="493.00" y="449.00" font-size="12" text-anchor="end" font-weight="normal" font-style="normal" fill="#262626">5</text>
<text x="408.00" y="449.00" font-size="12" text-anchor="start" font-weight="normal" font-style="normal" fill="#262626"><tspan font-style="italic">x</tspan> (μm)</text>
<text x="501.90" y="314.90" font-size="12" text-anchor="start" font-weight="bold" font-style="normal" fill="#000">k</text>
<text x="523.30" y="313.40" font-size="12" text-anchor="end" font-weight="normal" font-style="normal" fill="#262626">-5</text>
<text x="521.30" y="433.80" font-size="12" text-anchor="end" font-weight="normal" font-style="normal" fill="#262626">5</text>
<text x="521.10" y="449.00" font-size="12" text-anchor="start" font-weight="normal" font-style="normal" fill="#262626">-5</text>
<text x="658.00" y="449.00" font-size="12" text-anchor="end" font-weight="normal" font-style="normal" fill="#262626">5</text>
<text x="573.00" y="449.00" font-size="12" text-anchor="start" font-weight="normal" font-style="normal" fill="#262626"><tspan font-style="italic">x</tspan> (μm)</text>
<text transform="translate(25.10,374.50) rotate(-90)" font-size="12" text-anchor="middle" fill="#262626"><tspan font-style="italic">y</tspan> (μm)</text>
<text transform="translate(189.90,370.90) rotate(-90)" font-size="12" text-anchor="middle" fill="#262626"><tspan font-style="italic">y</tspan> (μm)</text>
<text transform="translate(354.30,370.70) rotate(-90)" font-size="12" text-anchor="middle" fill="#262626"><tspan font-style="italic">y</tspan> (μm)</text>
<text transform="translate(518.30,370.70) rotate(-90)" font-size="12" text-anchor="middle" fill="#262626"><tspan font-style="italic">y</tspan> (μm)</text>
<text x="675.2" y="308.9" font-size="12.5" style="font-family:'Liberation Serif';font-style:italic" fill="#262626">π</text>
<text x="674.6" y="435.6" font-size="12" fill="#262626">-<tspan style="font-family:'Liberation Serif';font-style:italic" font-size="12.5">π</tspan></text>
</svg>
</body></html>
